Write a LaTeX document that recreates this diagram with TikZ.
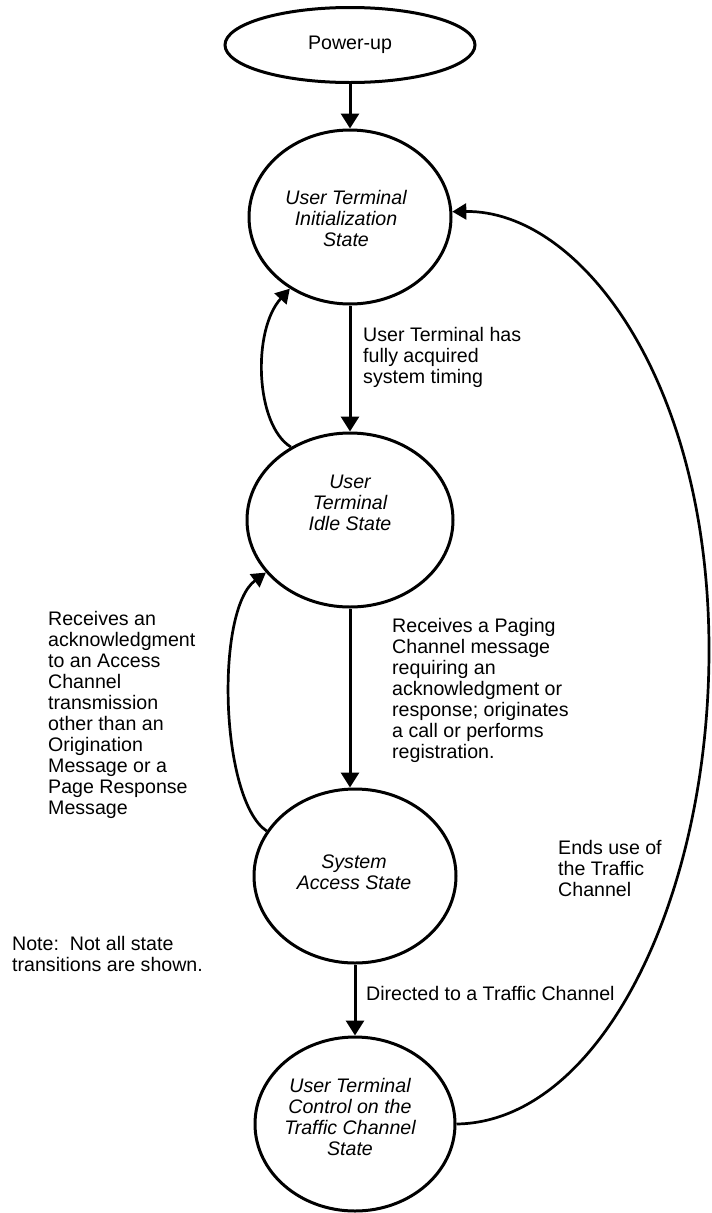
\documentclass[tikz,border=0pt]{standalone}
\usepackage{fontspec}
\setmainfont{Liberation Sans}
\usetikzlibrary{arrows.meta,shapes.geometric}
\begin{document}
\begin{tikzpicture}[x=1pt,y=-1pt,
  every node/.style={inner sep=0pt, font=\fontsize{19.6}{21}\selectfont},
  ring/.style={draw, ellipse, line width=3pt, minimum width=202pt, minimum height=174pt},
  startring/.style={draw, ellipse, line width=3pt, minimum width=250pt, minimum height=75pt},
  statename/.style={align=center, font=\fontsize{19.6}{21}\selectfont\itshape},
  txt/.style={align=left, anchor=west},
  flow/.style={line width=3pt, -{Triangle[length=15pt,width=18pt]}},
  backarc/.style={line width=2.7pt, -{Triangle[length=14pt,width=16pt]}},
]
\useasboundingbox (0,0) rectangle (712,1213);

% states
\node[startring] (pwr) at (350,45) {Power-up};
\node[ring] (init) at (350,217) {};
\node[statename] (init-t) at (346,218) {User Terminal\\Initialization\\State};
\node[ring, minimum width=206pt] (idle) at (350,520) {};
\node[statename] (idle-t) at (350,503) {User\\Terminal\\Idle State};
\node[ring] (sys) at (355,876) {};
\node[statename] (sys-t) at (354,872) {System\\Access State};
\node[ring, minimum width=200pt] (ctrl) at (355,1124) {};
\node[statename] (ctrl-t) at (350,1117) {User Terminal\\Control on the\\Traffic Channel\\State};

% main transitions
\draw[flow] (pwr.south) -- (pwr.south |- init.north);
\draw[flow] (init.south) -- (init.south |- idle.north);
\draw[flow] (idle.south) -- (idle.south |- sys.north);
\draw[flow] (sys.south) -- (sys.south |- ctrl.north);

% return transitions
\draw[backarc] (idle.129) .. controls (255,425) and (252,330) .. (init.230);
\draw[backarc] (sys.153) .. controls (220,800) and (215,610) .. (idle.212);
\draw[backarc] (ctrl.east) .. controls (600,1122) and (709,900) .. (709,650)
  .. controls (709,380) and (580,210) .. (init.3);

% transition labels
\node[txt] (l-acq) at (363,357) {User Terminal has\\fully acquired\\system timing};
\node[txt] (l-page) at (392,690) {Receives a Paging\\Channel message\\requiring an\\acknowledgment or\\response; originates\\a call or performs\\registration.};
\node[txt] (l-ack) at (48,715) {Receives an\\acknowledgment\\to an Access\\Channel\\transmission\\other than an\\Origination\\Message or a\\Page Response\\Message};
\node[txt] (l-note) at (12,954) {Note:\ \ Not all state\\transitions are shown.};
\node[txt] (l-dir) at (366,993) {Directed to a Traffic Channel};
\node[txt] (l-end) at (558,868) {Ends use of\\the Traffic\\Channel};
\end{tikzpicture}
\end{document}
